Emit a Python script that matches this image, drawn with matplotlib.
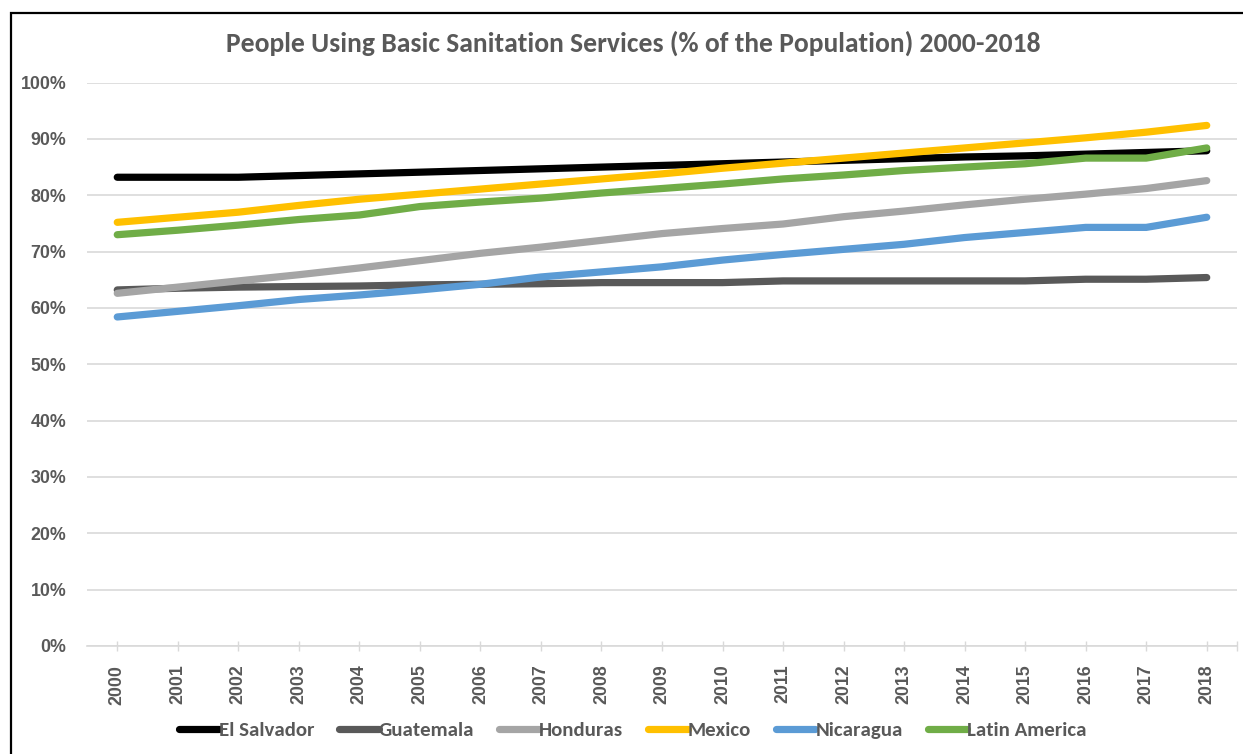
import matplotlib
matplotlib.use("Agg")
import matplotlib.pyplot as plt
from matplotlib import font_manager
from matplotlib.patches import Rectangle
from matplotlib.ticker import PercentFormatter, FixedLocator

years = list(range(2000, 2019))

el_salvador = [83.2, 83.2, 83.2, 83.5, 83.8, 84.1, 84.4, 84.7, 85.0, 85.3,
               85.6, 85.9, 86.2, 86.5, 86.8, 87.0, 87.3, 87.6, 87.9]
guatemala = [63.2, 63.5, 63.7, 63.8, 63.9, 64.1, 64.2, 64.3, 64.5, 64.5,
             64.5, 64.8, 64.8, 64.8, 64.8, 64.8, 65.1, 65.1, 65.4]
honduras = [62.6, 63.7, 64.8, 65.9, 67.1, 68.4, 69.7, 70.8, 72.0, 73.2,
            74.1, 74.9, 76.2, 77.2, 78.3, 79.3, 80.2, 81.2, 82.6]
mexico = [75.2, 76.1, 77.0, 78.2, 79.3, 80.2, 81.1, 82.0, 82.9, 83.8,
          84.8, 85.7, 86.6, 87.5, 88.4, 89.3, 90.2, 91.2, 92.4]
nicaragua = [58.4, 59.4, 60.4, 61.5, 62.3, 63.2, 64.2, 65.5, 66.4, 67.3,
             68.5, 69.5, 70.4, 71.3, 72.5, 73.4, 74.3, 74.3, 76.1]
latin_america = [73.0, 73.8, 74.7, 75.7, 76.5, 78.0, 78.8, 79.5, 80.4, 81.2,
                 82.0, 82.9, 83.6, 84.4, 85.0, 85.6, 86.6, 86.6, 88.4]

series_names = ["El Salvador", "Guatemala", "Honduras", "Mexico",
                "Nicaragua", "Latin America"]
series_values = [el_salvador, guatemala, honduras, mexico, nicaragua,
                 latin_america]
series_colors = ["#000000", "#595959", "#a5a5a5", "#ffc000", "#5b9bd5",
                 "#70ad47"]

title = "People Using Basic Sanitation Services (% of the Population) 2000-2018"


def first_family(candidates):
    names = {f.name for f in font_manager.fontManager.ttflist}
    for c in candidates:
        if c in names:
            return c
    return "DejaVu Sans"


narrow = first_family(["Carlito", "Liberation Sans Narrow", "Open Sans"])
sans = first_family(["Liberation Sans", "DejaVu Sans"])
narrow_scale = {"Carlito": 1.0, "Liberation Sans Narrow": 0.97,
                "Open Sans": 0.82}.get(narrow, 0.8)

text_gray = "#595959"
grid_gray = "#d9d9d9"
line_w = 5.2

fig = plt.figure(figsize=(12.43, 7.54), dpi=100)
ax = fig.add_axes([87 / 1243, 1 - 646 / 754, (1237 - 87) / 1243,
                   (646 - 82.6) / 754])

x = list(range(len(years)))
for name, vals, col in zip(series_names, series_values, series_colors):
    ax.plot(x, vals, color=col, lw=line_w, solid_capstyle="round",
            solid_joinstyle="round", label=name)

ax.set_xlim(-0.5, len(years) - 0.5)
ax.set_ylim(0, 100)
ax.yaxis.set_major_locator(FixedLocator(range(0, 101, 10)))
ax.yaxis.set_major_formatter(PercentFormatter(decimals=0))
ax.grid(axis="y", color=grid_gray, lw=1.2)
ax.set_axisbelow(True)

ax.set_xticks(x)
ax.set_xticklabels([str(y) for y in years], rotation=90)
ax.set_xticks([len(years) - 0.5], minor=True)

for s in ["top", "right", "left"]:
    ax.spines[s].set_visible(False)
ax.spines["bottom"].set_color(grid_gray)
ax.spines["bottom"].set_linewidth(1.2)

ax.tick_params(axis="y", length=0, pad=15, labelsize=12.8, labelcolor=text_gray)
ax.tick_params(axis="x", which="both", direction="inout", length=7,
               width=1, color=grid_gray, pad=10, labelsize=12.8,
               labelcolor=text_gray)
for lab in ax.get_xticklabels() + ax.get_yticklabels():
    lab.set_fontfamily(sans)
    lab.set_fontweight("bold")

fig.text(633 / 1243, 1 - 43 / 754, title, ha="center", va="center",
         fontsize=19.9 * narrow_scale, fontweight="bold", color=text_gray,
         family=narrow)

leg = fig.legend(loc="center", bbox_to_anchor=(633 / 1243, 1 - 730 / 754),
                 ncol=6, frameon=False, handlelength=1.9, handletextpad=0.0,
                 columnspacing=1.2,
                 prop={"family": narrow, "weight": "bold",
                       "size": 15 * narrow_scale})
for t in leg.get_texts():
    t.set_color(text_gray)
for h in leg.get_lines():
    h.set_linewidth(line_w)
    h.set_solid_capstyle("round")

fig.add_artist(Rectangle((11 / 1243, -0.05), 1.2, 1 - 12.5 / 754 + 0.05,
                         transform=fig.transFigure, fill=False,
                         edgecolor="#000000", lw=1.6))

fig.savefig("out.png", dpi=100)
